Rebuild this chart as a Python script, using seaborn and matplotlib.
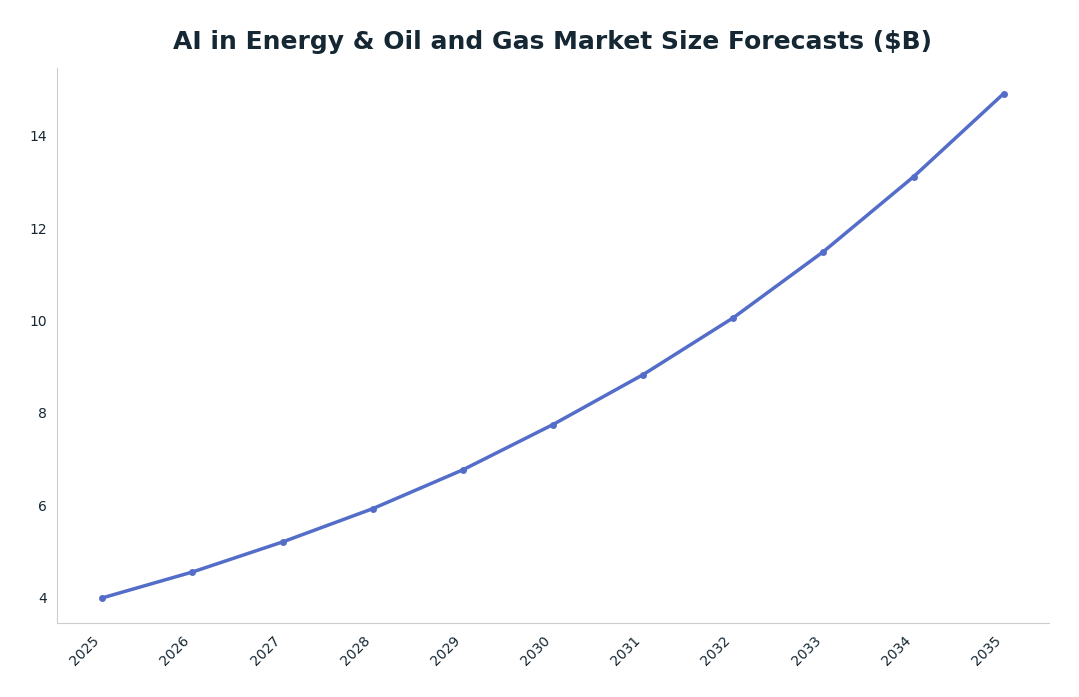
import pandas as pd
import seaborn as sns
import matplotlib.pyplot as plt

years = [2025, 2026, 2027, 2028, 2029, 2030, 2031, 2032, 2033, 2034, 2035]
market_size = [4.00, 4.56, 5.21, 5.93, 6.77, 7.75, 8.83, 10.06, 11.49, 13.11, 14.91]

df = pd.DataFrame({"year": years, "size": market_size})

sns.set_style("white")
fig, ax = plt.subplots(figsize=(10.79, 6.97), dpi=100)
sns.lineplot(data=df, x="year", y="size", color="#536dc8", linewidth=2.5,
             marker="o", markersize=5, markeredgewidth=0, ax=ax)

ax.set_title("AI in Energy & Oil and Gas Market Size Forecasts ($B)",
             fontsize=18, fontweight="bold", color="#152733", pad=14)
ax.set_xlabel("")
ax.set_ylabel("")
ax.set_xticks(years)
ax.set_xticklabels([str(y) for y in years], rotation=45, ha="right")
ax.set_yticks([4, 6, 8, 10, 12, 14])
ax.tick_params(axis="both", colors="#152733", labelsize=10, length=4, color="#888888")
ax.set_xlim(2024.5, 2035.5)
for s in ["top", "right"]:
    ax.spines[s].set_visible(False)
for s in ["left", "bottom"]:
    ax.spines[s].set_color("#cccccc")

plt.subplots_adjust(left=0.053, right=0.972, top=0.902, bottom=0.106)
plt.savefig("out.png")
